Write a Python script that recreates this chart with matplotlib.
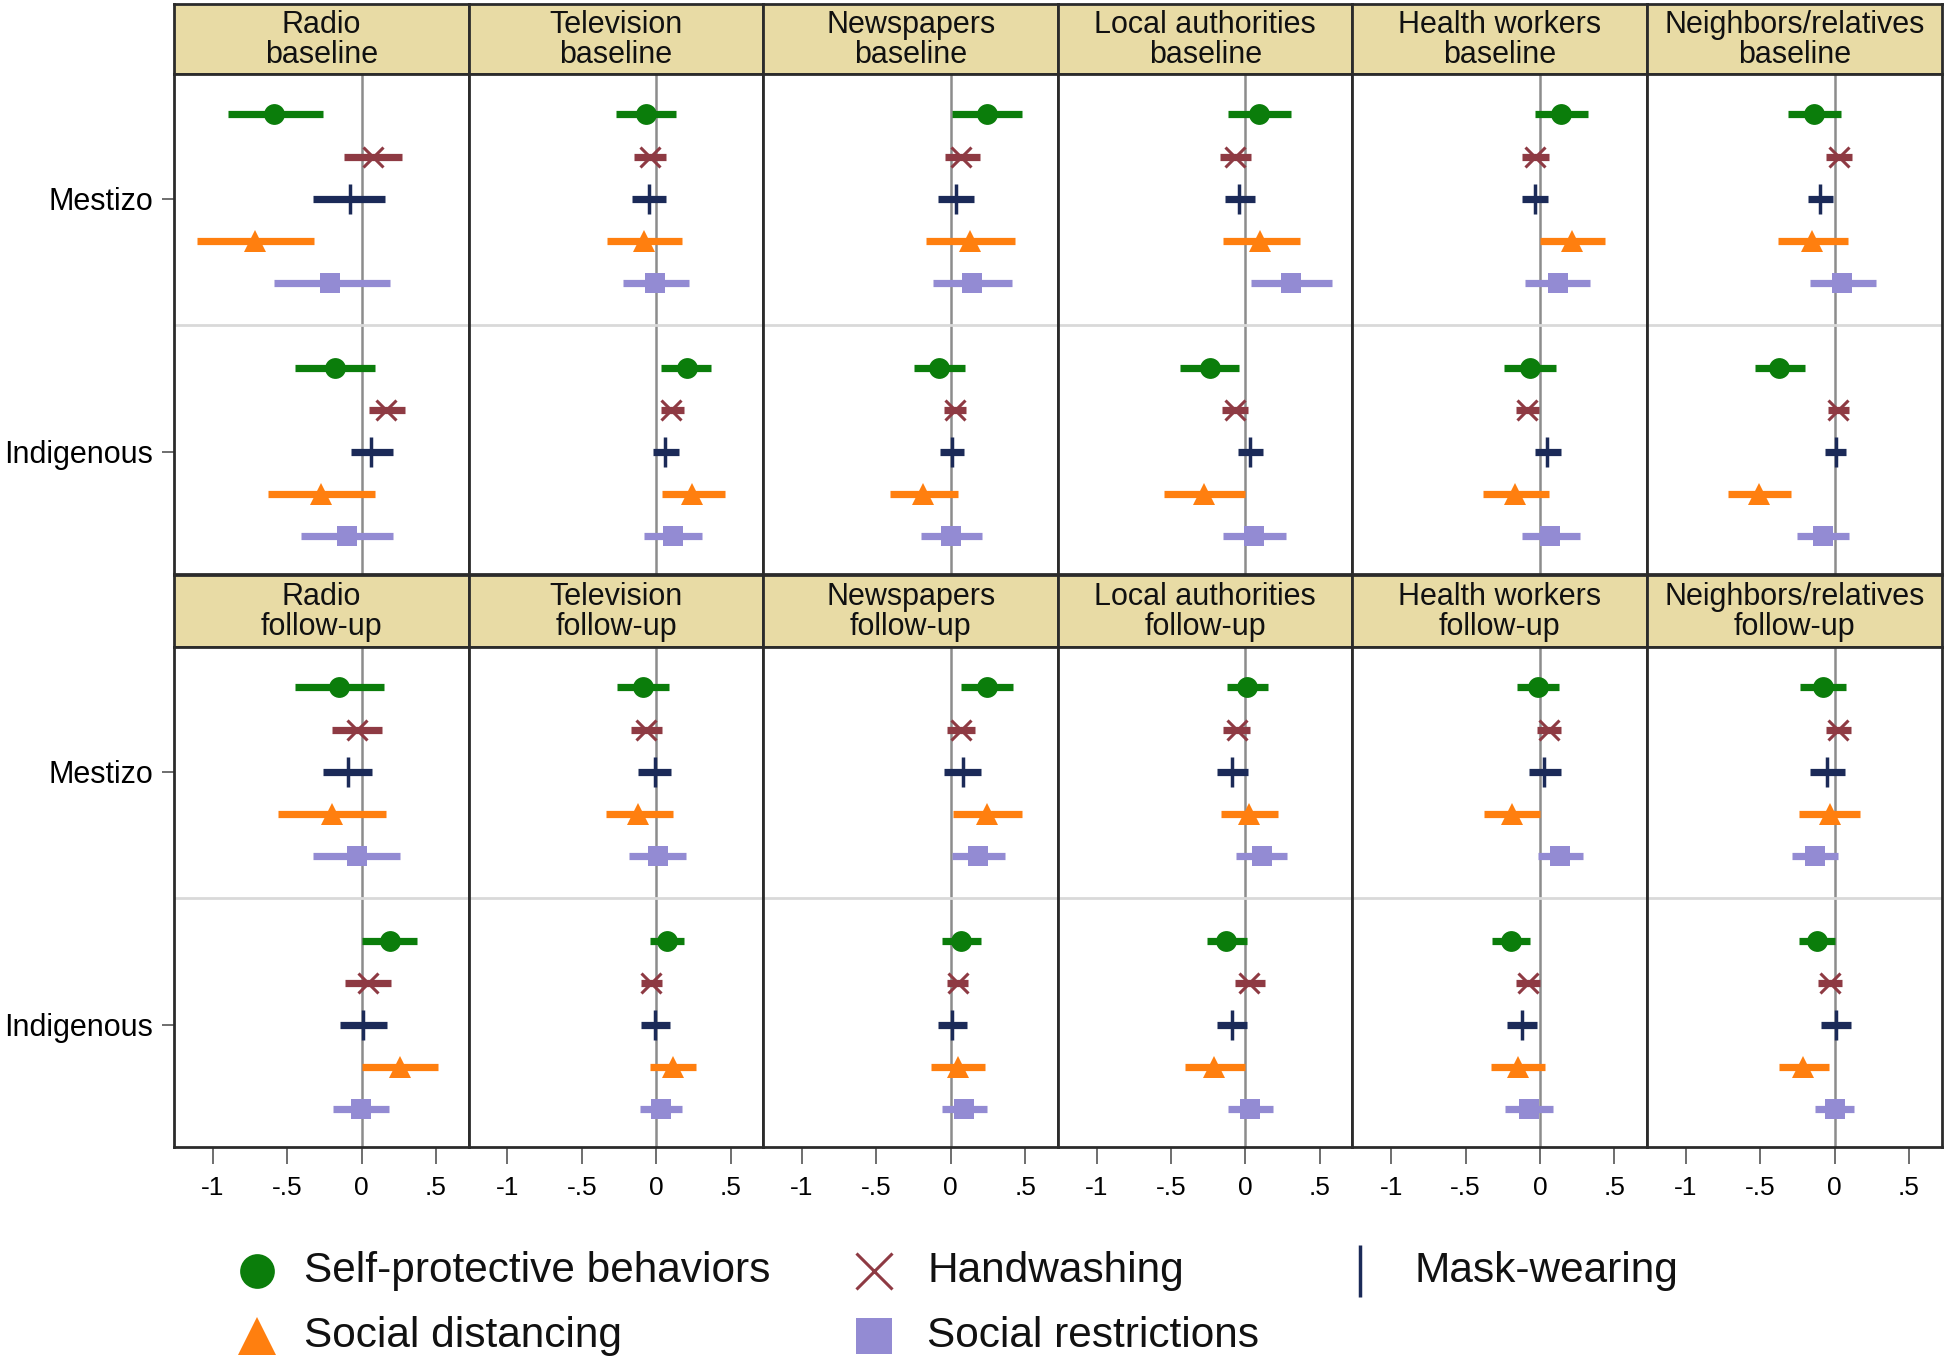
import matplotlib
matplotlib.use("Agg")
import matplotlib.pyplot as plt

plt.rcParams['font.family'] = ['Liberation Sans', 'DejaVu Sans']

# ---------------- data ----------------
sources = ["Radio", "Television", "Newspapers", "Local authorities",
           "Health workers", "Neighbors/relatives"]
waves = ["baseline", "follow-up"]
groups = ["Mestizo", "Indigenous"]
outcomes = ["Self-protective behaviors", "Handwashing", "Mask-wearing",
            "Social distancing", "Social restrictions"]
xtick_vals = [-1, -0.5, 0, 0.5]
xtick_labels = ["-1", "-.5", "0", ".5"]

# each row: one source; 10 values = Mestizo (5 outcomes) then Indigenous (5 outcomes)
est_baseline = [
    [-0.59, 0.075, -0.08, -0.72, -0.21, -0.18, 0.165, 0.065, -0.27, -0.10],
    [-0.07, -0.04, -0.05, -0.085, -0.01, 0.205, 0.10, 0.06, 0.24, 0.11],
    [0.245, 0.07, 0.033, 0.128, 0.14, -0.077, 0.026, 0.008, -0.186, 0.0],
    [0.09, -0.07, -0.04, 0.10, 0.31, -0.24, -0.07, 0.03, -0.28, 0.056],
    [0.143, -0.03, -0.035, 0.216, 0.118, -0.068, -0.088, 0.048, -0.166, 0.07],
    [-0.138, 0.028, -0.095, -0.15, 0.05, -0.37, 0.023, 0.008, -0.508, -0.078],
]
lo_baseline = [
    [-0.90, -0.12, -0.33, -1.11, -0.59, -0.45, 0.05, -0.07, -0.63, -0.41],
    [-0.27, -0.15, -0.16, -0.33, -0.22, 0.035, 0.03, -0.02, 0.04, -0.08],
    [0.005, -0.04, -0.087, -0.17, -0.12, -0.25, -0.046, -0.07, -0.41, -0.20],
    [-0.12, -0.17, -0.14, -0.15, 0.04, -0.44, -0.16, -0.05, -0.55, -0.15],
    [-0.03, -0.12, -0.12, 0.0, -0.098, -0.244, -0.163, -0.033, -0.384, -0.123],
    [-0.314, -0.06, -0.18, -0.377, -0.168, -0.535, -0.045, -0.063, -0.716, -0.25],
]
hi_baseline = [
    [-0.26, 0.27, 0.16, -0.32, 0.19, 0.09, 0.29, 0.21, 0.09, 0.21],
    [0.13, 0.065, 0.065, 0.17, 0.22, 0.37, 0.19, 0.15, 0.46, 0.31],
    [0.48, 0.195, 0.158, 0.43, 0.41, 0.097, 0.10, 0.09, 0.046, 0.21],
    [0.31, 0.04, 0.066, 0.37, 0.58, -0.04, 0.02, 0.12, -0.005, 0.27],
    [0.32, 0.06, 0.053, 0.437, 0.334, 0.108, -0.008, 0.14, 0.058, 0.27],
    [0.045, 0.118, -0.01, 0.088, 0.28, -0.2, 0.095, 0.08, -0.294, 0.095],
]
est_followup = [
    [-0.153, -0.03, -0.094, -0.2, -0.03, 0.19, 0.042, 0.01, 0.257, -0.007],
    [-0.088, -0.07, -0.007, -0.12, 0.01, 0.072, -0.033, -0.007, 0.114, 0.03],
    [0.244, 0.066, 0.08, 0.246, 0.183, 0.071, 0.046, 0.008, 0.046, 0.09],
    [0.01, -0.058, -0.09, 0.023, 0.11, -0.127, 0.025, -0.09, -0.21, 0.03],
    [-0.013, 0.058, 0.03, -0.186, 0.136, -0.196, -0.08, -0.123, -0.15, -0.075],
    [-0.078, 0.025, -0.048, -0.033, -0.133, -0.12, -0.03, 0.01, -0.21, 0.0],
]
lo_followup = [
    [-0.45, -0.2, -0.26, -0.56, -0.326, 0.003, -0.11, -0.143, 0.0, -0.195],
    [-0.264, -0.17, -0.12, -0.34, -0.18, -0.04, -0.10, -0.10, -0.04, -0.11],
    [0.066, -0.025, -0.043, 0.013, 0.008, -0.058, -0.025, -0.089, -0.135, -0.058],
    [-0.124, -0.152, -0.19, -0.165, -0.063, -0.26, -0.07, -0.19, -0.406, -0.12],
    [-0.156, -0.02, -0.073, -0.377, -0.015, -0.325, -0.158, -0.224, -0.327, -0.236],
    [-0.229, -0.06, -0.163, -0.239, -0.284, -0.236, -0.108, -0.088, -0.374, -0.128],
]
hi_followup = [
    [0.15, 0.14, 0.068, 0.166, 0.26, 0.375, 0.2, 0.173, 0.51, 0.186],
    [0.085, 0.04, 0.10, 0.114, 0.2, 0.19, 0.042, 0.09, 0.264, 0.17],
    [0.42, 0.165, 0.206, 0.48, 0.363, 0.206, 0.117, 0.112, 0.228, 0.244],
    [0.15, 0.033, 0.015, 0.216, 0.28, 0.01, 0.13, 0.013, -0.005, 0.183],
    [0.128, 0.143, 0.143, 0.0, 0.29, -0.065, 0.0, -0.02, 0.033, 0.085],
    [0.078, 0.11, 0.068, 0.173, 0.025, 0.0, 0.05, 0.113, -0.04, 0.128],
]

# ---------------- styles ----------------
colors = ["#0b7d0b", "#8e3a43", "#1b2a58", "#ff7f0f", "#938bd3"]
markers = ["o", "x", "|", "^", "s"]
msizes = [15, 15, 21, 16, 15]
mews = [0, 2.2, 2.5, 0, 0]
leg_msizes = [25, 26, 38, 27, 26]
strip_color = "#e8dba5"
frame_color = "#2b2b2b"

W, H = 1568.0, 1099.0
fig = plt.figure(figsize=(19.44, 13.63), dpi=100)
fig.patch.set_facecolor("white")

left0 = 140.5 / W
pw = 237.6 / W
rows_geom = [  # (strip_top, strip_bottom/plot_top, plot_bottom) in shown px
    (3, 60, 463),
    (464, 522, 925),
]

data_by_wave = [
    (est_baseline, lo_baseline, hi_baseline),
    (est_followup, lo_followup, hi_followup),
]

# y positions: Mestizo rows 1..5, Indigenous rows 7..11
ypos = [1, 2, 3, 4, 5, 7, 8, 9, 10, 11]

for r, wave in enumerate(waves):
    st, pt, pb = rows_geom[r]
    est_all, lo_all, hi_all = data_by_wave[r]
    for c, src in enumerate(sources):
        x0 = left0 + c * pw
        # strip
        sax = fig.add_axes([x0, 1 - pt / H, pw, (pt - st) / H])
        sax.set_facecolor(strip_color)
        sax.set_xticks([]); sax.set_yticks([])
        for sp in sax.spines.values():
            sp.set_color(frame_color); sp.set_linewidth(2)
        sax.text(0.5, 0.49, f"{src}\n{wave}", ha="center", va="center",
                 fontsize=22, linespacing=0.98, transform=sax.transAxes,
                 color="#111111")
        # plot panel
        ax = fig.add_axes([x0, 1 - pb / H, pw, (pb - pt) / H])
        ax.set_xlim(-1.26, 0.72)
        ax.set_ylim(11.9, 0.05)
        ax.axvline(0, color="#8c8c8c", lw=1.8, zorder=1)
        ax.axhline(6, color="#d9d9d9", lw=2, zorder=1)
        est = est_all[c]; lo = lo_all[c]; hi = hi_all[c]
        for i in range(10):
            k = i % 5
            ax.plot([lo[i], hi[i]], [ypos[i], ypos[i]], color=colors[k],
                    lw=5.2, solid_capstyle="butt", zorder=2)
            ax.plot([est[i]], [ypos[i]], linestyle="none", marker=markers[k],
                    markersize=msizes[k], color=colors[k],
                    markeredgewidth=mews[k] if mews[k] else 0,
                    markeredgecolor=colors[k], zorder=3)
        for sp in ax.spines.values():
            sp.set_color(frame_color); sp.set_linewidth(2)
        if c == 0:
            ax.set_yticks([3, 9])
            ax.set_yticklabels(groups, fontsize=22)
            ax.tick_params(axis="y", length=9, width=1.2, color="#555555", pad=6)
        else:
            ax.set_yticks([])
        if r == 1:
            ax.set_xticks(xtick_vals)
            ax.set_xticklabels(xtick_labels, fontsize=19)
            ax.tick_params(axis="x", length=12, width=1.2, color="#555555", pad=9)
        else:
            ax.set_xticks([])

# ---------------- legend ----------------
lax = fig.add_axes([0, 0, 1, 1], facecolor="none")
lax.set_xlim(0, W); lax.set_ylim(H, 0)
lax.axis("off")
leg_pos = [(207, 1025), (705, 1025), (1097, 1025), (207, 1077), (705, 1077)]
text_x = [245, 748, 1141, 245, 748]
for k in range(5):
    mx, my = leg_pos[k]
    lax.plot([mx], [my], linestyle="none", marker=markers[k],
             markersize=leg_msizes[k], color=colors[k],
             markeredgewidth=mews[k] if mews[k] else 0, markeredgecolor=colors[k])
    lax.text(text_x[k], my, outcomes[k], fontsize=30.5, va="center", ha="left",
             color="#111111")

fig.savefig("out.png", dpi=100, facecolor="white")
